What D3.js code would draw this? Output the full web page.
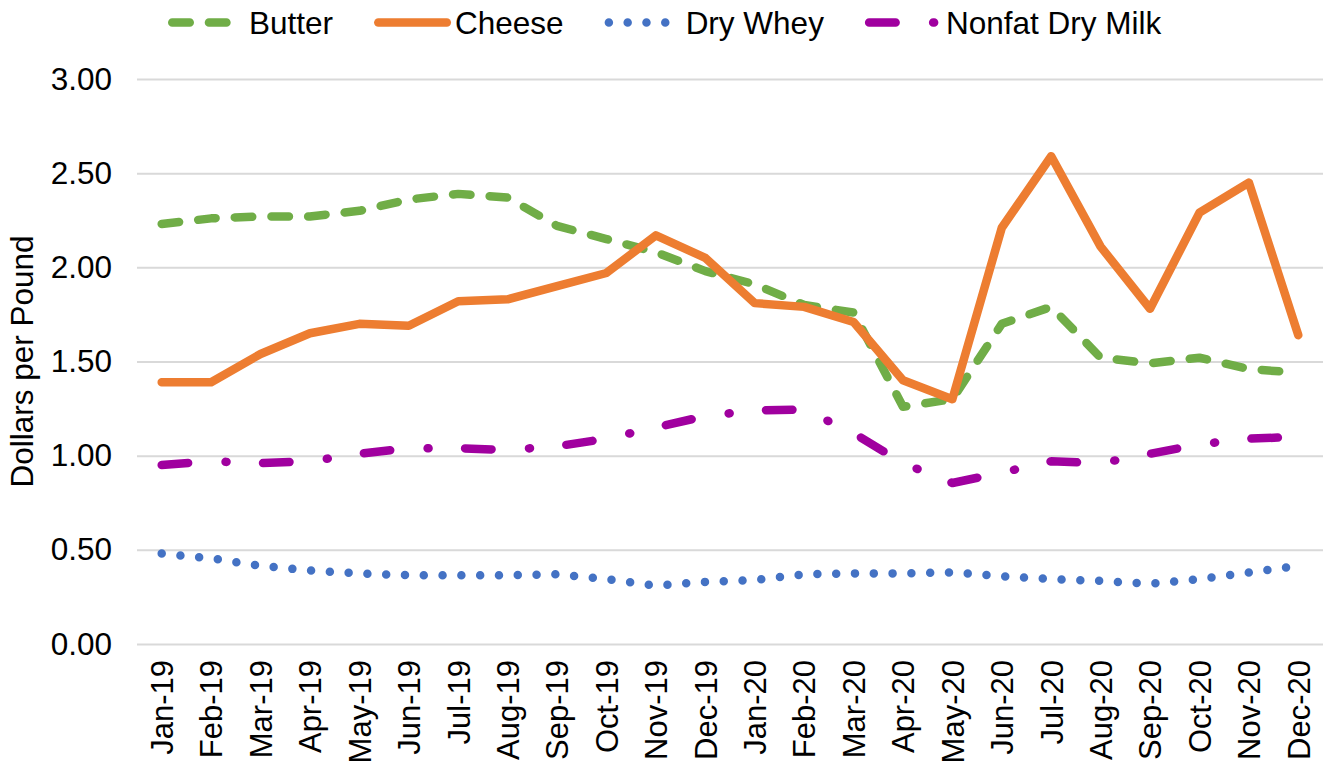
<!DOCTYPE html>
<html>
<head>
<meta charset="utf-8">
<script src="https://cdn.jsdelivr.net/npm/d3@7"></script>
<style>
  body { margin: 0; background: #fff; }
  text { font-family: Arial, "Liberation Sans", sans-serif; fill: #000; }
</style>
</head>
<body>
<svg id="chart"></svg>
<script>
// Monthly prices, dollars per pound
const months = ["Jan-19", "Feb-19", "Mar-19", "Apr-19", "May-19", "Jun-19",
  "Jul-19", "Aug-19", "Sep-19", "Oct-19", "Nov-19", "Dec-19",
  "Jan-20", "Feb-20", "Mar-20", "Apr-20", "May-20", "Jun-20",
  "Jul-20", "Aug-20", "Sep-20", "Oct-20", "Nov-20", "Dec-20"];

const butter = [2.23, 2.26, 2.27, 2.27, 2.30, 2.36, 2.39, 2.37, 2.22, 2.15, 2.08, 1.98,
  1.91, 1.80, 1.76, 1.26, 1.30, 1.70, 1.79, 1.52, 1.49, 1.52, 1.46, 1.44];
const cheese = [1.39, 1.39, 1.54, 1.65, 1.70, 1.69, 1.82, 1.83, 1.90, 1.97, 2.17, 2.05,
  1.81, 1.79, 1.71, 1.40, 1.30, 2.21, 2.59, 2.11, 1.78, 2.29, 2.45, 1.64];
const dryWhey = [0.48, 0.455, 0.415, 0.39, 0.375, 0.365, 0.365, 0.365, 0.37, 0.345, 0.31, 0.33,
  0.34, 0.37, 0.375, 0.375, 0.38, 0.36, 0.345, 0.335, 0.32, 0.345, 0.38, 0.415];
const nonfatDryMilk = [0.95, 0.97, 0.96, 0.97, 1.01, 1.04, 1.04, 1.03, 1.05, 1.09, 1.15, 1.21,
  1.24, 1.245, 1.12, 0.96, 0.855, 0.91, 0.97, 0.96, 1.01, 1.06, 1.09, 1.10];

const yTicks = [0, 0.5, 1, 1.5, 2, 2.5, 3];

const series = [
  { name: "Butter", values: butter, color: "#70AD47", dash: "17.5 19.2" },
  { name: "Cheese", values: cheese, color: "#ED7D31", dash: null },
  { name: "Dry Whey", values: dryWhey, color: "#4472C4", dash: "0 18.8" },
  { name: "Nonfat Dry Milk", values: nonfatDryMilk, color: "#A0009F", dash: "26.5 37.5 1 36.5" }
];

const W = 1326, H = 765;
const plot = { left: 137, right: 1323, top: 79, bottom: 644 };
const lineW = 8.5;
const fontSize = "31.5px";

const svg = d3.select("#chart").attr("width", W).attr("height", H);

const x = d3.scalePoint().domain(months).range([plot.left, plot.right]).padding(0.5);
const y = d3.scaleLinear().domain([0, 3]).range([plot.bottom, plot.top]);

// gridlines
svg.append("g")
  .attr("transform", "translate(" + plot.left + ",0)")
  .call(d3.axisLeft(y).tickValues(yTicks).tickSize(-(plot.right - plot.left)).tickFormat(""))
  .call(g => g.select(".domain").remove())
  .call(g => g.selectAll("line").attr("stroke", "#D9D9D9").attr("stroke-width", 2));

// y tick labels
svg.append("g")
  .attr("transform", "translate(" + plot.left + ",0)")
  .call(d3.axisLeft(y).tickValues(yTicks).tickSize(0).tickPadding(25).tickFormat(d3.format(".2f")))
  .call(g => g.select(".domain").remove())
  .call(g => g.selectAll("text").style("font-size", fontSize).attr("fill", "#000")
    .attr("font-family", "Arial, 'Liberation Sans', sans-serif"));

// x tick labels, rotated
svg.append("g")
  .attr("transform", "translate(0," + plot.bottom + ")")
  .call(d3.axisBottom(x).tickSize(0).tickPadding(0))
  .call(g => g.select(".domain").remove())
  .call(g => g.selectAll("text")
    .style("font-size", "31px")
    .attr("fill", "#000")
    .attr("font-family", "Arial, 'Liberation Sans', sans-serif")
    .attr("text-anchor", "end")
    .attr("x", -16)
    .attr("y", 0)
    .attr("dy", "0.35em")
    .attr("transform", "rotate(-90)"));

// y axis title
svg.append("text")
  .attr("transform", "translate(33," + ((plot.top + plot.bottom) / 2) + ") rotate(-90)")
  .attr("text-anchor", "middle")
  .style("font-size", fontSize)
  .text("Dollars per Pound");

// lines
const line = d3.line()
  .x((d, i) => x(months[i]))
  .y(d => y(d));

svg.selectAll(".series")
  .data(series)
  .enter()
  .append("path")
  .attr("class", "series")
  .attr("d", d => line(d.values))
  .attr("fill", "none")
  .attr("stroke", d => d.color)
  .attr("stroke-width", lineW)
  .attr("stroke-linecap", "round")
  .attr("stroke-linejoin", "round")
  .attr("stroke-dasharray", d => d.dash);

// legend, laid out left to right
const legend = svg.append("g").attr("class", "legend");
let lx = 168;
series.forEach(s => {
  const g = legend.append("g");
  g.append("line")
    .attr("x1", lx + lineW / 2)
    .attr("x2", lx + 77 - lineW / 2)
    .attr("y1", 22.5)
    .attr("y2", 22.5)
    .attr("stroke", s.color)
    .attr("stroke-width", lineW)
    .attr("stroke-linecap", "round")
    .attr("stroke-dasharray", s.dash);
  const t = g.append("text")
    .attr("x", lx + 81)
    .attr("y", 33.5)
    .style("font-size", fontSize)
    .text(s.name);
  lx += 81 + t.node().getComputedTextLength() + 41;
});
</script>
</body>
</html>
